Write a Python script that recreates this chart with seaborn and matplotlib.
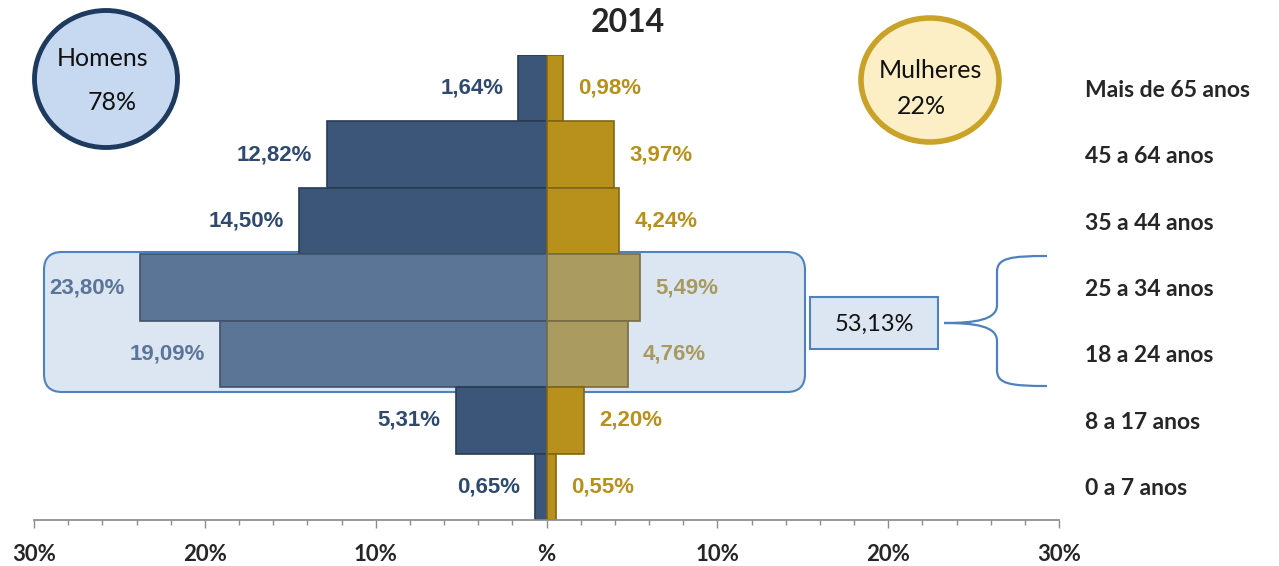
import numpy as np
import pandas as pd
import matplotlib
matplotlib.use("Agg")
import matplotlib.pyplot as plt
import seaborn as sns
from matplotlib.patches import FancyBboxPatch, Ellipse, Rectangle, PathPatch
from matplotlib.path import Path
from matplotlib.ticker import MultipleLocator

# dados (de cima para baixo)
faixas = ["Mais de 65 anos", "45 a 64 anos", "35 a 44 anos", "25 a 34 anos",
          "18 a 24 anos", "8 a 17 anos", "0 a 7 anos"]
homens = [1.64, 12.82, 14.50, 23.80, 19.09, 5.31, 0.65]
mulheres = [0.98, 3.97, 4.24, 5.49, 4.76, 2.20, 0.55]
destaque = ["25 a 34 anos", "18 a 24 anos"]
total_destaque = "53,13%"
titulo = "2014"
pct_homens = "78%"
pct_mulheres = "22%"
xticks = [-30, -20, -10, 0, 10, 20, 30]
xtick_labels = ["30%", "20%", "10%", "%", "10%", "20%", "30%"]

def fmt(v):
    return f"{v:.2f}%".replace(".", ",")

sns.set_theme(style="white")
plt.rcParams['font.family'] = ['Lato', 'DejaVu Sans']

# cores
az, az_claro = "#3b5678", "#5b7597"
ou, ou_claro = "#b8901c", "#aa9b60"
cores_h = [az_claro if f in destaque else az for f in faixas]
cores_m = [ou_claro if f in destaque else ou for f in faixas]
txt_h = ["#5a7597" if f in destaque else "#2f4a6e" for f in faixas]
txt_m = ["#a89a5e" if f in destaque else "#b8901a" for f in faixas]

df = pd.DataFrame({"faixa": faixas, "homens": -np.array(homens), "mulheres": mulheres})

fig = plt.figure(figsize=(12.79, 5.66), dpi=100)

# camada de fundo em pixels
bg = fig.add_axes([0, 0, 1, 1])
bg.set_xlim(0, 1279)
bg.set_ylim(566, 0)
bg.axis("off")

ax = fig.add_axes([34 / 1279, 46 / 566, 1025 / 1279, 465 / 566])
ax.set_zorder(1)
ax.patch.set_alpha(0)

sns.barplot(data=df, x="homens", y="faixa", hue="faixa", palette=cores_h,
            saturation=1, width=1.0, legend=False, orient="h", ax=ax)
sns.barplot(data=df, x="mulheres", y="faixa", hue="faixa", palette=cores_m,
            saturation=1, width=1.0, legend=False, orient="h", ax=ax)

for p in ax.patches:
    fc = np.array(p.get_facecolor()[:3])
    p.set_edgecolor(tuple(fc * 0.7))
    p.set_linewidth(1.2)

for i in range(len(faixas)):
    ax.annotate(fmt(homens[i]), xy=(-homens[i], i), xytext=(-11, 0),
                textcoords="offset points", ha="right", va="center",
                fontsize=16, fontweight="bold", color=txt_h[i],
                family=["Liberation Sans", "DejaVu Sans"])
    ax.annotate(fmt(mulheres[i]), xy=(mulheres[i], i), xytext=(11, 0),
                textcoords="offset points", ha="left", va="center",
                fontsize=16, fontweight="bold", color=txt_m[i],
                family=["Liberation Sans", "DejaVu Sans"])

ax.set_xlim(-30, 30)
ax.set_ylim(6.5, -0.5)
ax.set_xticks(xticks)
ax.set_xticklabels(xtick_labels, fontsize=16, fontweight="bold")
ax.xaxis.set_minor_locator(MultipleLocator(2))
ax.tick_params(axis="x", which="major", direction="out", length=6, width=1,
               color="#8c8c8c", pad=11, bottom=True)
ax.tick_params(axis="x", which="minor", direction="out", length=3.5, width=1,
               color="#8c8c8c", bottom=True)
ax.yaxis.tick_right()
ax.tick_params(axis="y", length=0, pad=19, labelsize=16.5)
for t in ax.get_yticklabels():
    t.set_fontweight("bold")
ax.set_xlabel("")
ax.set_ylabel("")
for s in ["left", "right", "top"]:
    ax.spines[s].set_visible(False)
ax.spines["bottom"].set_color("#8c8c8c")

# caixa de destaque
bg.add_patch(FancyBboxPatch((44, 252), 761, 140, boxstyle="round,pad=0,rounding_size=18",
                            fc="#dce6f2", ec="#4f81bd", lw=1.5))
bg.add_patch(Rectangle((810, 297), 128, 52, fc="#dce6f2", ec="#4f81bd", lw=1.5))
bg.text(874, 324, total_destaque, ha="center", va="center", fontsize=17, color="#111111")

# chave
codes = [Path.MOVETO, Path.CURVE4, Path.CURVE4, Path.CURVE4, Path.LINETO,
         Path.CURVE4, Path.CURVE4, Path.CURVE4]
verts = [(944, 323), (975, 323), (997, 320), (997, 305), (997, 272),
         (997, 258), (1010, 256), (1047, 256)]
bg.add_patch(PathPatch(Path(verts, codes), fc="none", ec="#4f81bd", lw=1.6))
verts2 = [(944, 323), (975, 323), (997, 326), (997, 341), (997, 370),
          (997, 384), (1010, 386), (1047, 386)]
bg.add_patch(PathPatch(Path(verts2, codes), fc="none", ec="#4f81bd", lw=1.6))

# círculos
bg.add_patch(Ellipse((106, 79), 143, 137, fc="#c6d9f0", ec="#1f3a5f", lw=3.5))
bg.text(103, 58, "Homens", ha="center", va="center", fontsize=18, color="#111111")
bg.text(112, 103, pct_homens, ha="center", va="center", fontsize=18, color="#111111")
bg.add_patch(Ellipse((930, 80), 138, 124, fc="#fcefc6", ec="#c9a227", lw=4))
bg.text(930, 71, "Mulheres", ha="center", va="center", fontsize=18, color="#111111")
bg.text(921, 106, pct_mulheres, ha="center", va="center", fontsize=18, color="#111111")

fig.text(628 / 1279, 1 - 22 / 566, titulo, ha="center", va="center",
         fontsize=23, fontweight="bold")

fig.savefig("out.png", dpi=100)
